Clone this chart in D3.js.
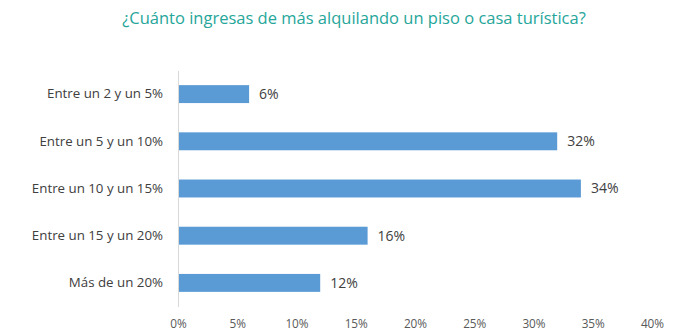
<!DOCTYPE html>
<html><head><meta charset="utf-8">
<script src="https://cdn.jsdelivr.net/npm/d3@7"></script>
<style>body{margin:0;background:#fff}svg{display:block}</style>
</head><body>
<script>
const categories = ["Entre un 2 y un 5%","Entre un 5 y un 10%","Entre un 10 y un 15%","Entre un 15 y un 20%","Más de un 20%"];
const values = [6, 32, 34, 16, 12];
const tickValues = [0,5,10,15,20,25,30,35,40];
const title = "¿Cuánto ingresas de más alquilando un piso o casa turística?";

const W = 695, H = 336;
const svg = d3.select("body").append("svg").attr("width", W).attr("height", H);
const font = "'Open Sans', sans-serif";
const x = d3.scaleLinear().domain([0, 40]).range([178, 652]);
const y = d3.scaleBand().domain(categories).range([70.5, 306.5]).paddingInner(0.62).paddingOuter(0.31);

svg.append("text").attr("x", 354).attr("y", 24).attr("text-anchor", "middle")
  .attr("font-family", font).attr("font-size", 16.5).attr("fill", "#26A69A").text(title);

// bars
svg.selectAll("rect.bar").data(values).join("rect").attr("class","bar")
  .attr("x", x(0)).attr("y", (d,i)=>y(categories[i]))
  .attr("width", d=>x(d)-x(0)).attr("height", y.bandwidth()).attr("fill", "#5B9BD5");

// value labels
svg.selectAll("text.val").data(values).join("text").attr("class","val")
  .attr("x", d=>x(d)+10).attr("y", (d,i)=>y(categories[i])+y.bandwidth()/2).attr("dy","0.35em")
  .attr("font-family", font).attr("font-size", 14).attr("fill", "#404040").text(d=>d+"%");

// y axis
const ya = svg.append("g").attr("transform", `translate(${x(0)},0)`).call(d3.axisLeft(y).tickSize(0).tickPadding(15));
ya.select(".domain").attr("stroke", "#d9d9d9");
ya.selectAll("text").attr("font-family", font).attr("font-size", 13.3).attr("fill", "#404040");

// x axis labels
const xa = svg.append("g").attr("transform", `translate(0,${y.range()[1]})`)
  .call(d3.axisBottom(x).tickValues(tickValues).tickFormat(d=>d+"%").tickSize(0).tickPadding(13));
xa.select(".domain").remove();
xa.selectAll("text").attr("font-family", font).attr("font-size", 11.8).attr("fill", "#595959");
</script>
</body></html>
